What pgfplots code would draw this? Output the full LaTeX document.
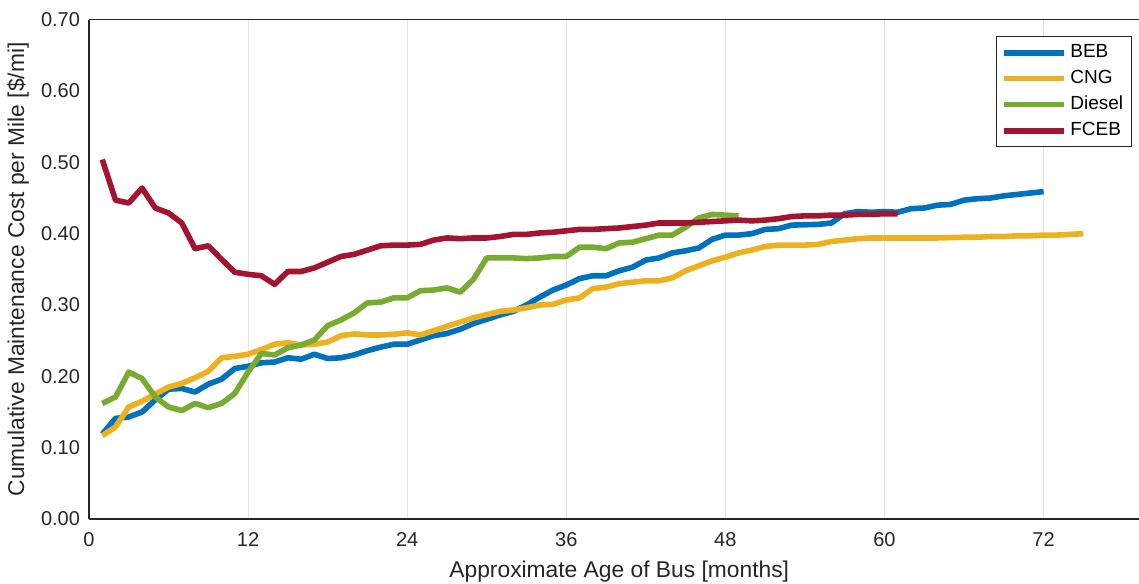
\documentclass[border=0pt]{standalone}
\usepackage{fontspec}
\setmainfont{Liberation Sans}
\usepackage{pgfplots}
\usepackage{pgfplotstable}
\pgfplotsset{compat=1.18}
\usetikzlibrary{calc}
\definecolor{beb}{rgb}{0,0.447,0.741}
\definecolor{cng}{rgb}{0.929,0.694,0.125}
\definecolor{diesel}{rgb}{0.466,0.674,0.188}
\definecolor{fceb}{rgb}{0.635,0.078,0.184}
\definecolor{axgray}{rgb}{0.15,0.15,0.15}

\pgfplotstableread{
m v
1 0.119
2 0.141
3 0.143
4 0.150
5 0.167
6 0.182
7 0.183
8 0.178
9 0.189
10 0.196
11 0.211
12 0.214
13 0.219
14 0.220
15 0.226
16 0.224
17 0.231
18 0.225
19 0.226
20 0.230
21 0.236
22 0.241
23 0.245
24 0.245
25 0.251
26 0.257
27 0.260
28 0.266
29 0.274
30 0.280
31 0.286
32 0.291
33 0.300
34 0.311
35 0.321
36 0.328
37 0.337
38 0.341
39 0.341
40 0.348
41 0.353
42 0.363
43 0.366
44 0.373
45 0.376
46 0.380
47 0.392
48 0.398
49 0.398
50 0.400
51 0.406
52 0.407
53 0.412
54 0.4125
55 0.413
56 0.415
57 0.428
58 0.431
59 0.430
60 0.431
61 0.430
62 0.435
63 0.436
64 0.440
65 0.441
66 0.447
67 0.449
68 0.450
69 0.453
70 0.455
71 0.457
72 0.459
}\beb

\pgfplotstableread{
m v
1 0.117
2 0.129
3 0.157
4 0.165
5 0.175
6 0.185
7 0.190
8 0.198
9 0.207
10 0.226
11 0.228
12 0.231
13 0.2375
14 0.245
15 0.247
16 0.244
17 0.245
18 0.248
19 0.257
20 0.2595
21 0.258
22 0.258
23 0.259
24 0.261
25 0.258
26 0.264
27 0.270
28 0.276
29 0.282
30 0.2865
31 0.291
32 0.293
33 0.296
34 0.300
35 0.301
36 0.307
37 0.310
38 0.323
39 0.325
40 0.330
41 0.332
42 0.334
43 0.334
44 0.338
45 0.348
46 0.355
47 0.362
48 0.367
49 0.373
50 0.377
51 0.382
52 0.384
53 0.384
54 0.384
55 0.385
56 0.389
57 0.391
58 0.393
59 0.394
60 0.394
61 0.394
62 0.394
63 0.394
64 0.394
65 0.3945
66 0.395
67 0.395
68 0.396
69 0.396
70 0.397
71 0.397
72 0.398
73 0.398
74 0.399
75 0.400
}\cng

\pgfplotstableread{
m v
1 0.162
2 0.171
3 0.206
4 0.197
5 0.171
6 0.157
7 0.152
8 0.162
9 0.156
10 0.162
11 0.176
12 0.206
13 0.232
14 0.230
15 0.240
16 0.244
17 0.251
18 0.271
19 0.279
20 0.289
21 0.303
22 0.304
23 0.310
24 0.310
25 0.320
26 0.321
27 0.324
28 0.318
29 0.336
30 0.366
31 0.366
32 0.366
33 0.365
34 0.366
35 0.368
36 0.368
37 0.381
38 0.381
39 0.379
40 0.387
41 0.388
42 0.393
43 0.398
44 0.398
45 0.409
46 0.422
47 0.427
48 0.426
49 0.425
}\diesel

\pgfplotstableread{
m v
1 0.504
2 0.447
3 0.443
4 0.464
5 0.436
6 0.429
7 0.415
8 0.379
9 0.383
10 0.364
11 0.346
12 0.343
13 0.341
14 0.329
15 0.347
16 0.347
17 0.352
18 0.360
19 0.368
20 0.371
21 0.377
22 0.383
23 0.384
24 0.384
25 0.385
26 0.391
27 0.394
28 0.393
29 0.394
30 0.394
31 0.396
32 0.399
33 0.399
34 0.401
35 0.402
36 0.404
37 0.406
38 0.406
39 0.407
40 0.408
41 0.410
42 0.412
43 0.415
44 0.415
45 0.415
46 0.416
47 0.417
48 0.418
49 0.419
50 0.418
51 0.419
52 0.421
53 0.424
54 0.425
55 0.425
56 0.426
57 0.426
58 0.427
59 0.427
60 0.428
61 0.428
}\fceb

\begin{document}
\begin{tikzpicture}
\begin{axis}[
  scale only axis,
  width=525pt, height=249.65pt,
  xmin=0, xmax=79.2, ymin=0, ymax=0.7,
  xtick={0,12,24,36,48,60,72},
  ytick={0,0.1,0.2,0.3,0.4,0.5,0.6,0.7},
  /pgf/number format/assume math mode=true,
  yticklabel style={/pgf/number format/fixed, /pgf/number format/fixed zerofill, /pgf/number format/precision=2},
  tick label style={font=\fontsize{10}{12}\selectfont, text=axgray},
  xticklabel style={yshift=-3pt},
  yticklabel style={xshift=-1pt},
  major tick length=0pt,
  xmajorgrids,
  grid style={black!10, line width=0.5pt},
  axis x line*=box, axis y line*=left,
  axis line style={-, axgray, line width=0.6pt},
  xlabel={Approximate Age of Bus [months]},
  ylabel={Cumulative Maintenance Cost per Mile [\$/mi]},
  label style={font=\fontsize{11.4}{13}\selectfont, text=axgray},
  xlabel style={at={(axis description cs:0.505,0)}, anchor=base, yshift=-29.5pt},
  ylabel style={at={(axis description cs:0,0.5)}, anchor=center, yshift=35.5pt},
  legend style={at={(0.993,0.967)}, anchor=north east, draw=axgray, line width=0.5pt,
    font=\fontsize{9.5}{11}\selectfont, inner xsep=2pt, inner ysep=2pt, row sep=0.8pt,
    cells={anchor=west}},
  legend image code/.code={\draw[#1] (0pt,0pt) -- (30pt,0pt);},
  every axis plot/.append style={line width=2.8pt, line join=round},
]
\addplot[beb] table[x=m,y=v] {\beb};
\addplot[cng] table[x=m,y=v] {\cng};
\addplot[diesel] table[x=m,y=v] {\diesel};
\addplot[fceb] table[x=m,y=v] {\fceb};
\legend{BEB,CNG,Diesel,FCEB}
\end{axis}
\pgfresetboundingbox
\path[use as bounding box] ($(current axis.south west)+(-44.5pt,-32.5pt)$) rectangle ($(current axis.north east)+(0pt,9.85pt)$);
\end{tikzpicture}
\end{document}
